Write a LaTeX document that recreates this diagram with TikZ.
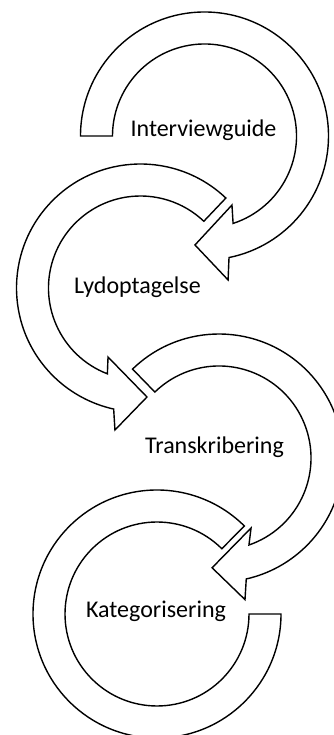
\documentclass[tikz,border=0pt]{standalone}
\usepackage{fontspec}
\setmainfont{Carlito}
\usetikzlibrary{calc}
\tikzset{
  arrowband/.style={draw=black, fill=white, line width=1.4pt, line join=miter},
  steplabel/.style={font=\fontsize{24}{28}\selectfont, text=black, anchor=base, inner sep=0pt}
}
\begin{document}
\begin{tikzpicture}[x=1pt,y=1pt]
\useasboundingbox (0,0) rectangle (334,735);
\clip (0,0) rectangle (334,735);
\fill[white] (0,0) rectangle (334,735);
\coordinate (C1) at (204.5,599);
\coordinate (C2) at (140.5,447);
\coordinate (C3) at (219,277);
\coordinate (C4) at (157,121);
% shape 4 (no head)
\draw[arrowband] ($(C4)+(0:124)$) arc[start angle=0, end angle=-314.8, radius=124]
  -- ($(C4)+(45.2:92)$) arc[start angle=45.2, end angle=360, radius=92] -- cycle;
% shape 3
\draw[arrowband] ($(C3)+(134.2:124)$) arc[start angle=134.2, end angle=-77.3, radius=124]
  -- ($(C3)+(-79.6:144)$) -- ($(C3)+(-93.6:110)$) -- ($(C3)+(-65.4:77)$) -- ($(C3)+(-71:92)$)
  arc[start angle=-71, end angle=134.2, radius=92] -- cycle;
% shape 2
\draw[arrowband] ($(C2)+(46.5:124)$) arc[start angle=46.5, end angle=257.5, radius=124]
  -- ($(C2)+(259.8:144.3)$) -- ($(C2)+(273.4:109.2)$) -- ($(C2)+(244.8:76.3)$) -- ($(C2)+(248.9:92)$)
  arc[start angle=248.9, end angle=46.5, radius=92] -- cycle;
% shape 1
\draw[arrowband] ($(C1)+(180:124)$) arc[start angle=180, end angle=-78.6, radius=124]
  -- ($(C1)+(-80.7:145.9)$) -- ($(C1)+(-95:109.4)$) -- ($(C1)+(-68.3:74.3)$) -- ($(C1)+(-71.9:92)$)
  arc[start angle=-71.9, end angle=180, radius=92] -- cycle;
% labels
\node[steplabel] (t1) at (203.5,598) {Interviewguide};
\node[steplabel] (t2) at (137.5,441) {Lydoptagelse};
\node[steplabel] (t3) at (214.5,281) {Transkribering};
\node[steplabel] (t4) at (156,117) {Kategorisering};
\end{tikzpicture}
\end{document}
